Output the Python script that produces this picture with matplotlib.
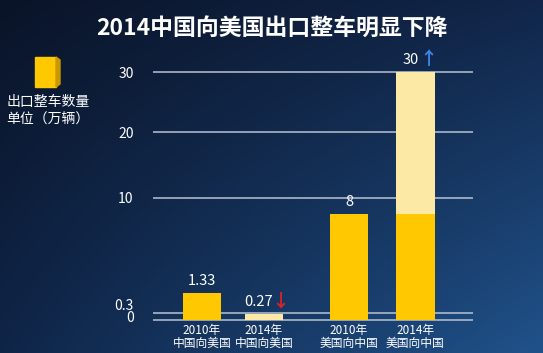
import numpy as np
import matplotlib
matplotlib.use('Agg')
import matplotlib.pyplot as plt
from matplotlib.patches import Rectangle, Polygon
from matplotlib.transforms import ScaledTranslation

plt.rcParams['font.family'] = ['Noto Sans CJK SC', 'DejaVu Sans']

# 数据
title = '2014中国向美国出口整车明显下降'
years = ['2010年', '2014年', '2010年', '2014年']
routes = ['中国向美国', '中国向美国', '美国向中国', '美国向中国']
values = [1.33, 0.27, 8, 30]
value_labels = ['1.33', '0.27', '8', '30']
ticks = [0, 0.3, 10, 20, 30]
tick_labels = ['0', '0.3', '10', '20', '30']
legend_text = '出口整车数量\n单位（万辆）'

YELLOW = '#FFC800'
PALE = '#FDE9A6'


# 纵轴是压缩过的刻度，低值部分被拉开
def fwd(v):
    v = np.asarray(v, dtype=float)
    return 6 * v + 68 * (1 - np.exp(-v / 4.1))


_grid = np.linspace(-5, 60, 20001)


def inv(y):
    return np.interp(y, fwd(_grid), _grid)


W, H = 543, 353
fig = plt.figure(figsize=(W / 100, H / 100), dpi=100)

# 背景渐变
bg = fig.add_axes([0, 0, 1, 1], zorder=-10)
bg.axis('off')
tl = np.array([10, 20, 40]) / 255
tr = np.array([17, 38, 74]) / 255
bl = np.array([15, 37, 72]) / 255
br = np.array([32, 82, 138]) / 255
u = np.linspace(0, 1, 200)[None, :, None]
v = np.linspace(0, 1, 200)[:, None, None]
img = (1 - u) * (1 - v) * tl + u * (1 - v) * tr + (1 - u) * v * bl + u * v * br
bg.imshow(img, aspect='auto', extent=[0, 1, 0, 1])

ax = fig.add_axes([153 / W, 1 - 320 / H, 320 / W, 248 / H])
ax.set_facecolor('none')
ax.set_yscale('function', functions=(fwd, inv))
x = np.array([0, 1, 2.37, 3.44])
ax.set_xlim(-0.79, 4.37)
ax.set_ylim(0, 30)
for s in ax.spines.values():
    s.set_visible(False)

ax.hlines(ticks, -0.79, 4.37, colors='#B9C3D2', lw=1.1, clip_on=False, zorder=1)

colors = [YELLOW, PALE, YELLOW, PALE]
ax.bar(x, values, width=0.62, color=colors, zorder=2)
# 2014年美国向中国：下部为2010年水平
ax.bar(x[3], values[2], width=0.62, color=YELLOW, zorder=3)

ax.set_yticks(ticks)
ax.set_yticklabels(tick_labels)
ax.tick_params(axis='y', length=0, pad=14, labelcolor='white', labelsize=10)
ylabels = ax.get_yticklabels()
ylabels[0].set_transform(ylabels[0].get_transform()
                         + ScaledTranslation(0, 3 / 100, fig.dpi_scale_trans))
ylabels[1].set_transform(ylabels[1].get_transform()
                         + ScaledTranslation(0, 9 / 100, fig.dpi_scale_trans))

ax.set_xticks(x)
ax.set_xticklabels([a + '\n' + b for a, b in zip(years, routes)],
                   linespacing=0.95)
ax.tick_params(axis='x', length=0, pad=3, labelcolor='white', labelsize=8.5)

# 数值标注
dx = [0, -4, 0, -3]
for xi, val, lab, d in zip(x, values, value_labels, dx):
    ax.annotate(lab, (xi, val), xytext=(d, 3.5), textcoords='offset points',
                ha='center', va='bottom', color='white', fontsize=10.5)
ax.annotate('↓', (x[1], values[1]), xytext=(12, 3), textcoords='offset points',
            ha='center', va='bottom', color='#D8232A', fontsize=13,
            fontweight='bold')
ax.annotate('↑', (x[3], values[3]), xytext=(9, 3), textcoords='offset points',
            ha='center', va='bottom', color='#3D86E8', fontsize=13,
            fontweight='bold')

fig.text(0.5, 1 - 28 / H, title, ha='center', va='center', color='white',
         fontsize=16.5, fontweight='bold')

# 图例方块
fig.patches.append(Rectangle((35 / W, 1 - 87 / H), 21 / W, 30 / H,
                             transform=fig.transFigure, color=YELLOW))
fig.patches.append(Polygon([(56 / W, 1 - 87 / H), (60 / W, 1 - 84 / H),
                            (60 / W, 1 - 60 / H), (56 / W, 1 - 57 / H)],
                           closed=True, transform=fig.transFigure,
                           color='#C99A00'))
fig.text(48 / W, 1 - 111 / H, legend_text, ha='center', va='center',
         color='white', fontsize=10, linespacing=1.35)

fig.savefig('out.png', dpi=100)
